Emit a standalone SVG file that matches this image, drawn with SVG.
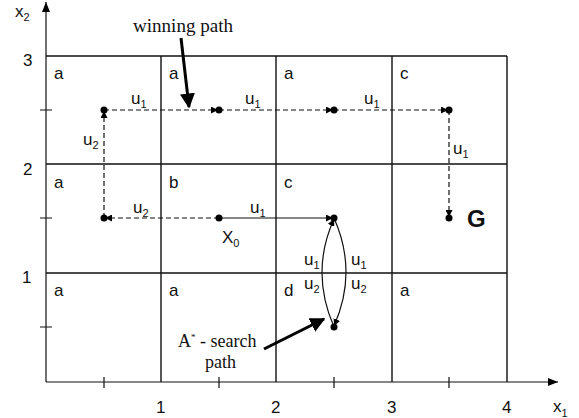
<svg xmlns="http://www.w3.org/2000/svg" width="579" height="418" viewBox="0 0 579 418">
<style>
.grid{stroke:#111;stroke-width:1.4;fill:none}
.ax{stroke:#111;stroke-width:1.2;fill:none}
.dash{stroke:#111;stroke-width:1.2;stroke-dasharray:5 3;fill:none}
.solid{stroke:#111;stroke-width:1.2;fill:none}
.thick{stroke:#000;stroke-width:3;fill:none}
.t{font-family:"Liberation Sans",Arial,sans-serif;font-size:17px;fill:#111}
.s{font-size:11px}
.tr{font-family:"Liberation Serif","Times New Roman",serif;font-size:18px;fill:#111}
.dot{fill:#000}
</style>
<defs>
<marker id="ah" viewBox="0 0 10 10" refX="10" refY="5" markerWidth="7" markerHeight="7" markerUnits="userSpaceOnUse" orient="auto"><path d="M0,0 L10,5 L0,10 z" fill="#000"/></marker>
<marker id="ax" viewBox="0 0 10 10" refX="10" refY="5" markerWidth="10" markerHeight="10" markerUnits="userSpaceOnUse" orient="auto"><path d="M0,1 L10,5 L0,9 z" fill="#000"/></marker>
<marker id="big" viewBox="0 0 10 10" refX="9" refY="5" markerWidth="5" markerHeight="5" orient="auto"><path d="M0,0 L10,5 L0,10 z" fill="#000"/></marker>
</defs>
<g id="axes">
<line class="ax" x1="46" y1="382" x2="46" y2="2" marker-end="url(#ax)"/>
<line class="ax" x1="46" y1="382" x2="558" y2="382" marker-end="url(#ax)"/>
<path class="ax" d="M104,377V388M219,377V388M334,377V388M449,377V388M40,110H52M40,218H52M40,327H52"/>
<text class="t" x="15" y="17">x<tspan class="s" dy="4">2</tspan></text>
<text class="t" x="553" y="412">x<tspan class="s" dy="5">1</tspan></text>
<text class="t" x="23" y="66">3</text>
<text class="t" x="23" y="175">2</text>
<text class="t" x="22" y="283">1</text>
<text class="t" x="156" y="413">1</text>
<text class="t" x="271" y="413">2</text>
<text class="t" x="387" y="413">3</text>
<text class="t" x="502" y="413">4</text>
</g>
<g id="grid">
<path class="grid" d="M46,56H507M46,164H507M46,273H507M161,56V382M276,56V382M392,56V382M507,56V382"/>
<text class="t" x="54" y="79">a</text>
<text class="t" x="169" y="79">a</text>
<text class="t" x="284" y="79">a</text>
<text class="t" x="400" y="79">c</text>
<text class="t" x="54" y="188">a</text>
<text class="t" x="169" y="188">b</text>
<text class="t" x="284" y="188">c</text>
<text class="t" x="54" y="296">a</text>
<text class="t" x="169" y="296">a</text>
<text class="t" x="284" y="296">d</text>
<text class="t" x="400" y="296">a</text>
</g>
<g id="connectors">
<line class="dash" x1="104" y1="218" x2="104" y2="111" marker-end="url(#ah)"/>
<line class="dash" x1="104" y1="110" x2="218" y2="110" marker-end="url(#ah)"/>
<line class="dash" x1="219" y1="110" x2="333" y2="110" marker-end="url(#ah)"/>
<line class="dash" x1="334" y1="110" x2="448" y2="110" marker-end="url(#ah)"/>
<line class="dash" x1="449" y1="110" x2="449" y2="217" marker-end="url(#ah)"/>
<line class="dash" x1="219" y1="218" x2="105" y2="218" marker-end="url(#ah)"/>
<line class="solid" x1="219" y1="218" x2="333" y2="218" marker-end="url(#ah)"/>
<path class="solid" d="M334,327 Q310,272 334,219" marker-end="url(#ah)"/>
<path class="solid" d="M334,218 Q358,272 334,326" marker-end="url(#ah)"/>
<line class="thick" x1="181" y1="38" x2="189" y2="107" marker-end="url(#big)"/>
<line class="thick" x1="264" y1="349" x2="324" y2="319" marker-end="url(#big)"/>
</g>
<g id="nodes">
<g id="n11"><circle class="dot" cx="104" cy="110" r="3.5"/></g>
<g id="n21"><circle class="dot" cx="219" cy="110" r="3.5"/></g>
<g id="n31"><circle class="dot" cx="334" cy="110" r="3.5"/></g>
<g id="n41"><circle class="dot" cx="449" cy="110" r="3.5"/></g>
<g id="n12"><circle class="dot" cx="104" cy="218" r="3.5"/></g>
<g id="x0"><circle class="dot" cx="219" cy="218" r="3.5"/><text class="t" x="222" y="243">X<tspan class="s" dy="4">0</tspan></text></g>
<g id="n32"><circle class="dot" cx="334" cy="218" r="3.5"/></g>
<g id="goal"><circle class="dot" cx="449" cy="218" r="3.5"/><text class="t" x="467" y="227" style="font-weight:bold;font-size:24px">G</text></g>
<g id="n33"><circle class="dot" cx="334" cy="327" r="3.5"/></g>
</g>
<g id="labels">
<text class="t" x="131" y="104">u<tspan class="s" dy="4">1</tspan></text>
<text class="t" x="245" y="104">u<tspan class="s" dy="4">1</tspan></text>
<text class="t" x="364" y="104">u<tspan class="s" dy="4">1</tspan></text>
<text class="t" x="83" y="145">u<tspan class="s" dy="4">2</tspan></text>
<text class="t" x="453" y="154">u<tspan class="s" dy="4">1</tspan></text>
<text class="t" x="133" y="213">u<tspan class="s" dy="4">2</tspan></text>
<text class="t" x="250" y="213">u<tspan class="s" dy="4">1</tspan></text>
<text class="t" x="304" y="265">u<tspan class="s" dy="4">1</tspan></text>
<text class="t" x="304" y="289">u<tspan class="s" dy="4">2</tspan></text>
<text class="t" x="351" y="265">u<tspan class="s" dy="4">1</tspan></text>
<text class="t" x="351" y="289">u<tspan class="s" dy="4">2</tspan></text>
<text class="tr" x="133" y="32" textLength="100" lengthAdjust="spacingAndGlyphs">winning path</text>
<text class="tr" x="178" y="347">A<tspan style="font-size:9px" dy="-7">*</tspan><tspan dy="7"> - search</tspan></text>
<text class="tr" x="205" y="368">path</text>
</g>
</svg>
